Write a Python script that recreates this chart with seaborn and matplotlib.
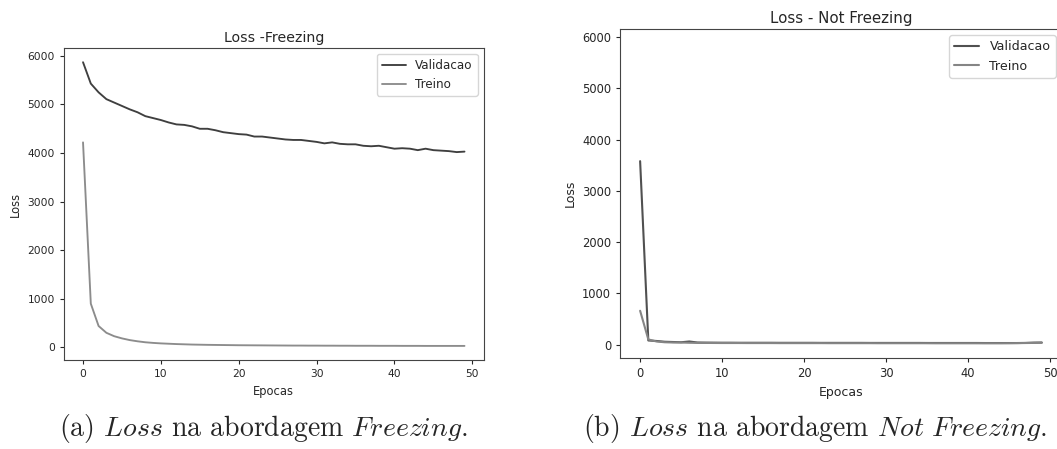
#%% import tools and libraries
import numpy as np
import pandas as pd
import seaborn as sb
import matplotlib.pyplot as plt

#%% values (one value per epoch)
epocas = list(range(50))

val_freezing = [5870, 5430, 5250, 5110, 5040, 4970, 4900, 4840, 4760, 4720,
                4680, 4630, 4590, 4580, 4550, 4500, 4500, 4470, 4430, 4410,
                4390, 4380, 4340, 4340, 4320, 4300, 4280, 4270, 4270, 4250,
                4230, 4200, 4220, 4190, 4180, 4180, 4150, 4140, 4150, 4120,
                4090, 4100, 4090, 4060, 4090, 4060, 4050, 4040, 4020, 4030]
treino_freezing = [4220, 900, 440, 300, 230, 185, 150, 125, 105, 92,
                   82, 75, 68, 63, 58, 55, 52, 50, 48, 46,
                   44, 43, 42, 41, 40, 39, 38, 37, 37, 36,
                   36, 35, 35, 34, 34, 33, 33, 33, 32, 32,
                   32, 31, 31, 31, 30, 30, 30, 30, 30, 30]

val_notfreezing = [3580, 80, 70, 55, 50, 45, 60, 40, 38, 37,
                   36, 36, 35, 35, 35, 35, 35, 34, 34, 34,
                   34, 34, 33, 33, 33, 33, 33, 33, 32, 32,
                   32, 32, 32, 32, 32, 31, 31, 31, 31, 31,
                   31, 31, 30, 30, 30, 30, 30, 32, 38, 40]
treino_notfreezing = [660, 100, 60, 45, 40, 40, 35, 33, 32, 31,
                      30, 30, 30, 29, 29, 29, 29, 28, 28, 28,
                      28, 28, 28, 27, 27, 27, 27, 27, 27, 26,
                      26, 26, 26, 26, 26, 26, 25, 25, 25, 25,
                      25, 25, 25, 25, 25, 26, 28, 30, 32, 35]

#%% long form dataframes
def build_df(val, treino):
    df = pd.DataFrame({'Epocas': epocas * 2,
                       'Loss': val + treino,
                       'serie': ['Validacao'] * len(val) + ['Treino'] * len(treino)})
    return df

df_freezing = build_df(val_freezing, treino_freezing)
df_notfreezing = build_df(val_notfreezing, treino_notfreezing)

#%% plot
sb.set_style('ticks')
plt.rcParams['font.family'] = ['DejaVu Sans']
plt.rcParams['mathtext.fontset'] = 'cm'

fig = plt.figure(figsize=(10.57, 4.49), dpi=100)
ax1 = fig.add_axes([0.0605, 0.198, 0.397, 0.695])
ax2 = fig.add_axes([0.5866, 0.2027, 0.418, 0.733])

sb.lineplot(data=df_freezing, x='Epocas', y='Loss', hue='serie', ax=ax1,
            palette={'Validacao': '#3f3f3f', 'Treino': '#8c8c8c'}, linewidth=1.35)
ax1.set_title('Loss -Freezing', fontsize=10.2, pad=4)
ax1.set_xlabel('Epocas', fontsize=8.3)
ax1.set_ylabel('Loss', fontsize=8.3)
ax1.tick_params(labelsize=7.7, length=3)
ax1.legend(loc='upper right', fontsize=8.6, title=None)

sb.lineplot(data=df_notfreezing, x='Epocas', y='Loss', hue='serie', ax=ax2,
            palette={'Validacao': '#505050', 'Treino': '#858585'}, linewidth=1.5)
ax2.set_ylim(ax1.get_ylim())
ax2.set_title('Loss - Not Freezing', fontsize=10.8, pad=4)
ax2.set_xlabel('Epocas', fontsize=9)
ax2.set_ylabel('Loss', fontsize=9)
ax2.tick_params(labelsize=8.3, length=3)
ax2.legend(loc='upper right', fontsize=9.1, title=None)

for ax in (ax1, ax2):
    ax.set_xticks([0, 10, 20, 30, 40, 50])
    for s in ax.spines.values():
        s.set_color('#444444')

#captions under each panel
fig.text(0.249, 0.029, r'(a) $\mathit{Loss}$ na abordagem $\mathit{Freezing}$.',
         ha='center', va='baseline', fontsize=20, family='cmr10')
fig.text(0.771, 0.029, r'(b) $\mathit{Loss}$ na abordagem $\mathit{Not\ Freezing}$.',
         ha='center', va='baseline', fontsize=20, family='cmr10')

plt.savefig('out.png', dpi=100)
